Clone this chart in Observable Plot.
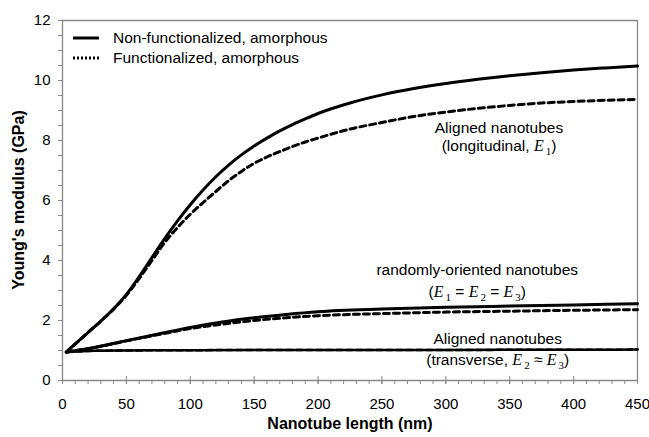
<!DOCTYPE html>
<html>
<head>
<meta charset="utf-8">
<script src="https://cdn.jsdelivr.net/npm/d3@7"></script>
<script src="https://cdn.jsdelivr.net/npm/@observablehq/plot@0.6"></script>
<style>
  html, body { margin: 0; padding: 0; background: #fff; }
  #chart { width: 649px; height: 437px; }
</style>
</head>
<body>
<div id="chart"></div>
<script>
// ---- data ----
const lenLong = [3,10,20,30,40,50,60,70,80,90,100,110,120,130,140,150,160,170,180,190,200,225,250,275,300,325,350,375,400,425,450];
const longSolid = [0.95,1.22,1.6,1.98,2.39,2.87,3.46,4.1,4.73,5.32,5.86,6.35,6.79,7.18,7.52,7.82,8.08,8.32,8.53,8.72,8.9,9.25,9.52,9.73,9.9,10.04,10.16,10.26,10.35,10.42,10.48];
const longDashed = [0.95,1.22,1.6,1.98,2.38,2.84,3.4,4.0,4.6,5.1,5.54,5.93,6.3,6.66,6.97,7.24,7.45,7.63,7.8,7.95,8.08,8.38,8.6,8.8,8.95,9.07,9.17,9.25,9.3,9.34,9.37];

const lenRand = [3,25,50,75,100,125,150,175,200,250,300,350,400,450];
const randSolid = [0.95,1.1,1.33,1.55,1.77,1.95,2.09,2.2,2.29,2.38,2.44,2.48,2.52,2.56];
const randDashed = [0.95,1.1,1.32,1.53,1.73,1.88,2.0,2.09,2.16,2.23,2.28,2.31,2.34,2.36];

const lenTrans = [3,25,50,100,200,300,450];
const transSolid = [0.95,0.99,1.0,1.01,1.02,1.02,1.03];
const transDashed = [0.95,0.99,1.0,1.01,1.02,1.02,1.03];

const seriesNames = ["Non-functionalized, amorphous", "Functionalized, amorphous"];
const xTicks = [0,50,100,150,200,250,300,350,400,450];
const yTicks = [0,2,4,6,8,10,12];
const xTitle = "Nanotube length (nm)";
const yTitle = "Young's modulus (GPa)";

const rows = [];
function add(xs, ys, group, kind, w) { xs.forEach((x, i) => rows.push({x, y: ys[i], group, kind, w})); }
add(lenLong, longSolid, "long-solid", "solid", 3);
add(lenLong, longDashed, "long-dashed", "dashed", 3);
add(lenRand, randSolid, "rand-solid", "solid", 3);
add(lenRand, randDashed, "rand-dashed", "dashed", 3);
add(lenTrans, transDashed, "trans-dashed", "dashed", 2.5);
add(lenTrans, transSolid, "trans-solid", "solid", 2.5);

const FONT = "'Liberation Sans', Arial, Helvetica, sans-serif";
const SERIF = "'Liberation Serif', 'Times New Roman', serif";
const AX = "#888888";

const chart = Plot.plot({
  width: 649,
  height: 437,
  marginLeft: 62,
  marginRight: 12,
  marginTop: 20,
  marginBottom: 57,
  style: {fontFamily: FONT, fontSize: "15px"},
  x: {domain: [0, 450]},
  y: {domain: [0, 12]},
  marks: [
    Plot.ruleX([0, 450], {stroke: AX, strokeWidth: 1.3}),
    Plot.ruleY([0, 12], {stroke: AX, strokeWidth: 1.3}),
    Plot.axisY({ticks: d3.range(0, 12.01, 0.5), tickSize: 4, tickFormat: () => "", stroke: AX, label: null}),
    Plot.axisY({ticks: yTicks, tickSize: 4, tickPadding: 8, stroke: AX, label: null, fill: "#000", fontSize: 15}),
    Plot.axisX({ticks: d3.range(0, 450.1, 10), tickSize: 4, tickFormat: () => "", stroke: AX, label: null}),
    Plot.axisX({ticks: xTicks, tickSize: 4, tickPadding: 14, stroke: AX, label: null, fill: "#000", fontSize: 15}),
    Plot.axisX({ticks: xTicks, tickSize: -4, tickFormat: () => "", stroke: AX, label: null}),
    Plot.line(rows.filter(d => d.kind === "dashed"), {x: "x", y: "y", z: "group", stroke: "#000", strokeWidth: "w", strokeDasharray: "6,4", curve: "monotone-x"}),
    Plot.line(rows.filter(d => d.kind === "solid"), {x: "x", y: "y", z: "group", stroke: "#000", strokeWidth: "w", curve: "monotone-x"}),
    Plot.text([xTitle], {frameAnchor: "bottom", dy: 48, fontWeight: "bold", fontSize: 16, fill: "#000"})
  ]
});
document.getElementById("chart").appendChild(chart);

// ---- y title, legend and annotations ----
const svg = d3.select(chart);
const fx = v => chart.scale("x").apply(v), fy = v => chart.scale("y").apply(v);

svg.append("text").attr("transform", `translate(18,${(fy(0) + fy(12)) / 2}) rotate(-90)`).attr("dy", "0.35em")
  .attr("text-anchor", "middle").attr("font-family", FONT).attr("font-weight", "bold")
  .attr("font-size", 16).attr("fill", "#000").text(yTitle);

const leg = svg.append("g");
[[38, null], [58, "2,2"]].forEach(([yy, dash], i) => {
  const ln = leg.append("line").attr("x1", 73).attr("x2", 99).attr("y1", yy).attr("y2", yy)
    .attr("stroke", "#000").attr("stroke-width", 3);
  if (dash) ln.attr("stroke-dasharray", dash);
  leg.append("text").attr("x", 113).attr("y", yy).attr("dy", "0.35em").attr("text-anchor", "start")
    .attr("font-family", FONT).attr("font-size", 15.5).attr("fill", "#000").text(seriesNames[i]);
});

function label(x, y, parts) {
  const t = svg.append("text").attr("x", fx(x)).attr("y", fy(y)).attr("dy", "0.35em")
    .attr("text-anchor", "middle").attr("font-family", FONT).attr("font-size", 15.5).attr("fill", "#000");
  let lowered = false;
  parts.forEach(p => {
    if (typeof p === "string") {
      const s = t.append("tspan").text(p);
      if (lowered) { s.attr("dy", -4); lowered = false; }
    } else {
      const e = t.append("tspan").attr("font-family", SERIF).attr("font-style", "italic").attr("font-size", 16).text("E");
      if (lowered) { e.attr("dy", -4); lowered = false; }
      t.append("tspan").attr("font-family", SERIF).attr("font-size", 11).attr("dy", 4).attr("dx", 2).text(p.E);
      lowered = true;
    }
  });
}
label(342, 8.41, ["Aligned nanotubes"]);
label(342, 7.81, ["(longitudinal, ", {E: "1"}, ")"]);
label(325, 3.67, ["randomly-oriented nanotubes"]);
label(325, 2.94, ["(", {E: "1"}, " = ", {E: "2"}, " = ", {E: "3"}, ")"]);
label(341, 1.39, ["Aligned nanotubes"]);
label(341, 0.67, ["(transverse, ", {E: "2"}, " \u2248 ", {E: "3"}, ")"]);
</script>
</body>
</html>
